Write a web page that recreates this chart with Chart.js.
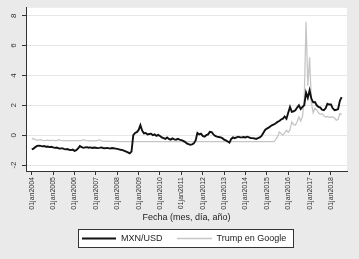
<!DOCTYPE html>
<html>
<head>
<meta charset="utf-8">
<script src="https://cdn.jsdelivr.net/npm/chart.js@4.4.1/dist/chart.umd.min.js"></script>
<style>
  html, body { margin: 0; padding: 0; background: #eaeaea; }
  #wrap { width: 359px; height: 259px; }
</style>
</head>
<body>
<div id="wrap"><canvas id="chart" width="359" height="259"></canvas></div>
<script>
// monthly values, first point = 01jan2004
const startYear = 2004;
const yearTicks = [2004, 2005, 2006, 2007, 2008, 2009, 2010, 2011, 2012, 2013, 2014, 2015, 2016, 2017, 2018];
const yTicks = [-2, 0, 2, 4, 6, 8];
const seriesLabels = ['MXN/USD', 'Trump en Google'];
const axisTitle = 'Fecha (mes, día, año)';

const mxnUsd = [
  -0.95, -0.9, -0.8, -0.72, -0.7, -0.72, -0.75, -0.73, -0.78, -0.76, -0.8, -0.78,   // 2004
  -0.82, -0.85, -0.83, -0.88, -0.9, -0.87, -0.92, -0.95, -0.93, -0.98, -1.0, -0.97, // 2005
  -1.05, -1.0, -0.88, -0.73, -0.8, -0.85, -0.82, -0.8, -0.84, -0.82, -0.86, -0.83,  // 2006
  -0.84, -0.87, -0.85, -0.82, -0.86, -0.88, -0.85, -0.87, -0.9, -0.86, -0.88, -0.9, // 2007
  -0.92, -0.95, -0.98, -1.0, -1.05, -1.1, -1.15, -1.22, -1.1, 0.0, 0.15, 0.2,       // 2008
  0.35, 0.67, 0.3, 0.12, 0.15, 0.05, 0.08, 0.1, 0.0, 0.05, -0.05, 0.02,             // 2009
  -0.05, -0.15, -0.2, -0.25, -0.15, -0.25, -0.3, -0.22, -0.28, -0.3, -0.25, -0.3,   // 2010
  -0.33, -0.38, -0.45, -0.55, -0.6, -0.65, -0.62, -0.55, -0.35, 0.15, 0.05, 0.1,    // 2011
  -0.05, -0.1, 0.0, 0.05, 0.22, 0.2, 0.05, -0.05, -0.1, -0.12, -0.15, -0.2,         // 2012
  -0.3, -0.35, -0.42, -0.5, -0.25, -0.15, -0.2, -0.15, -0.1, -0.15, -0.15, -0.12,   // 2013
  -0.15, -0.1, -0.15, -0.2, -0.2, -0.22, -0.25, -0.2, -0.15, -0.05, 0.15, 0.35,     // 2014
  0.44, 0.5, 0.6, 0.67, 0.72, 0.8, 0.89, 0.95, 1.05, 1.1, 1.25, 1.1,                // 2015
  1.5, 1.89, 1.56, 1.6, 1.67, 1.85, 2.0, 1.75, 1.9, 2.0, 2.85, 2.5,                 // 2016
  3.0, 2.44, 2.2, 2.22, 2.0, 1.89, 1.85, 1.7, 1.67, 1.8, 2.1, 2.05,                 // 2017
  2.05, 1.8, 1.67, 1.7, 1.75, 2.3, 2.55                                             // 2018
];

const trumpGoogle = [
  -0.28, -0.22, -0.3, -0.35, -0.32, -0.3, -0.35, -0.36, -0.35, -0.33, -0.36, -0.35,  // 2004
  -0.35, -0.37, -0.36, -0.3, -0.35, -0.37, -0.36, -0.38, -0.37, -0.36, -0.38, -0.37, // 2005
  -0.36, -0.37, -0.38, -0.37, -0.36, -0.3, -0.35, -0.37, -0.38, -0.37, -0.38, -0.37, // 2006
  -0.38, -0.37, -0.3, -0.38, -0.4, -0.41, -0.4, -0.41, -0.42, -0.42, -0.42, -0.42,   // 2007
  -0.43, -0.43, -0.43, -0.43, -0.43, -0.43, -0.43, -0.43, -0.43, -0.43, -0.43, -0.43, // 2008
  -0.43, -0.43, -0.43, -0.43, -0.43, -0.43, -0.43, -0.43, -0.43, -0.43, -0.43, -0.43, // 2009
  -0.43, -0.43, -0.43, -0.43, -0.43, -0.43, -0.43, -0.43, -0.43, -0.43, -0.43, -0.43, // 2010
  -0.43, -0.43, -0.43, -0.43, -0.43, -0.43, -0.43, -0.43, -0.43, -0.43, -0.43, -0.43, // 2011
  -0.43, -0.43, -0.43, -0.43, -0.43, -0.43, -0.43, -0.43, -0.43, -0.43, -0.43, -0.43, // 2012
  -0.43, -0.43, -0.43, -0.43, -0.43, -0.43, -0.43, -0.43, -0.43, -0.43, -0.43, -0.43, // 2013
  -0.43, -0.43, -0.43, -0.43, -0.43, -0.43, -0.43, -0.43, -0.43, -0.43, -0.43, -0.43, // 2014
  -0.43, -0.43, -0.43, -0.43, -0.43, -0.3, -0.1, 0.22, 0.1, 0.0, 0.15, 0.33,          // 2015
  0.2, 0.35, 0.89, 0.7, 0.67, 0.9, 1.22, 0.95, 1.25, 2.4, 7.6, 3.3,                   // 2016
  5.22, 2.2, 1.5, 1.8, 1.67, 1.5, 1.4, 1.44, 1.3, 1.22, 1.25, 1.2,                    // 2017
  1.2, 1.22, 1.15, 1.0, 1.05, 1.44, 1.4                                               // 2018
];

const FONT = "'Liberation Sans', Arial, sans-serif";
const toPoints = (arr) => arr.map((v, i) => ({ x: startYear + i / 12, y: v }));

const backgroundPlugin = {
  id: 'bg',
  beforeDraw(chart) {
    const { ctx, chartArea: a } = chart;
    ctx.save();
    ctx.fillStyle = '#eaeaea';
    ctx.fillRect(0, 0, chart.width, chart.height);
    ctx.fillStyle = '#ffffff';
    ctx.fillRect(a.left, a.top, a.right - a.left, a.bottom - a.top);
    ctx.restore();
  }
};

// y tick labels rotated like the original, plus the boxed legend
const extrasPlugin = {
  id: 'extras',
  afterDraw(chart) {
    const { ctx } = chart;
    const ys = chart.scales.y;
    ctx.save();
    ctx.fillStyle = '#333';
    ctx.font = '8px ' + FONT;
    ctx.textAlign = 'center';
    ctx.textBaseline = 'middle';
    ys.ticks.forEach((t) => {
      const py = ys.getPixelForValue(t.value);
      ctx.save();
      ctx.translate(14, py);
      ctx.rotate(-Math.PI / 2);
      ctx.fillText(String(t.value), 0, 0);
      ctx.restore();
    });

    // legend
    ctx.fillStyle = '#ffffff';
    ctx.fillRect(78.5, 229.5, 215, 18);
    ctx.strokeStyle = '#333';
    ctx.lineWidth = 1;
    ctx.strokeRect(78.5, 229.5, 215, 18);
    const items = [
      { x0: 82, x1: 116, tx: 121 },
      { x0: 177, x1: 212, tx: 216.5 }
    ];
    ctx.font = '9px ' + FONT;
    ctx.textAlign = 'left';
    chart.data.datasets.forEach((ds, i) => {
      const it = items[i];
      ctx.strokeStyle = ds.borderColor;
      ctx.lineWidth = i === 0 ? 2 : 1.6;
      ctx.beginPath();
      ctx.moveTo(it.x0, 238.5);
      ctx.lineTo(it.x1, 238.5);
      ctx.stroke();
      ctx.fillStyle = '#222';
      ctx.fillText(ds.label, it.tx, 238.5);
    });
    ctx.restore();
  }
};

new Chart(document.getElementById('chart'), {
  type: 'line',
  data: {
    datasets: [
      {
        label: seriesLabels[0],
        data: toPoints(mxnUsd),
        borderColor: '#111111',
        borderWidth: 1.9,
        pointRadius: 0,
        tension: 0
      },
      {
        label: seriesLabels[1],
        data: toPoints(trumpGoogle),
        borderColor: '#c6c6c6',
        borderWidth: 1.3,
        pointRadius: 0,
        tension: 0
      }
    ]
  },
  options: {
    responsive: false,
    animation: false,
    devicePixelRatio: 1,
    layout: { padding: { top: 7, right: 12, left: 0, bottom: 0 } },
    plugins: { legend: { display: false }, tooltip: { enabled: false } },
    scales: {
      x: {
        type: 'linear',
        min: 2003.73,
        max: 2018.75,
        afterBuildTicks: (axis) => { axis.ticks = yearTicks.map((v) => ({ value: v })); },
        afterFit: (axis) => { axis.height = 88; },
        border: { display: true, color: '#333', width: 1 },
        grid: { drawOnChartArea: false, drawTicks: true, tickLength: 4, tickColor: '#333' },
        ticks: {
          autoSkip: false,
          minRotation: 90,
          maxRotation: 90,
          padding: 2,
          color: '#333',
          font: { family: FONT, size: 7 },
          callback: (v) => '01jan' + v
        },
        title: {
          display: true,
          text: axisTitle,
          color: '#222',
          font: { family: FONT, size: 9 },
          padding: { top: 0, bottom: 35.6 }
        }
      },
      y: {
        min: -2.4,
        max: 8.53,
        afterBuildTicks: (axis) => { axis.ticks = yTicks.map((v) => ({ value: v })); },
        afterFit: (axis) => { axis.width = 26; },
        border: { display: true, color: '#333', width: 1 },
        grid: { color: '#e6e6e6', lineWidth: 1, drawTicks: true, tickLength: 4, tickColor: '#333' },
        ticks: { color: 'rgba(0,0,0,0)', font: { family: FONT, size: 8 } }
      }
    }
  },
  plugins: [backgroundPlugin, extrasPlugin]
});
</script>
</body>
</html>
